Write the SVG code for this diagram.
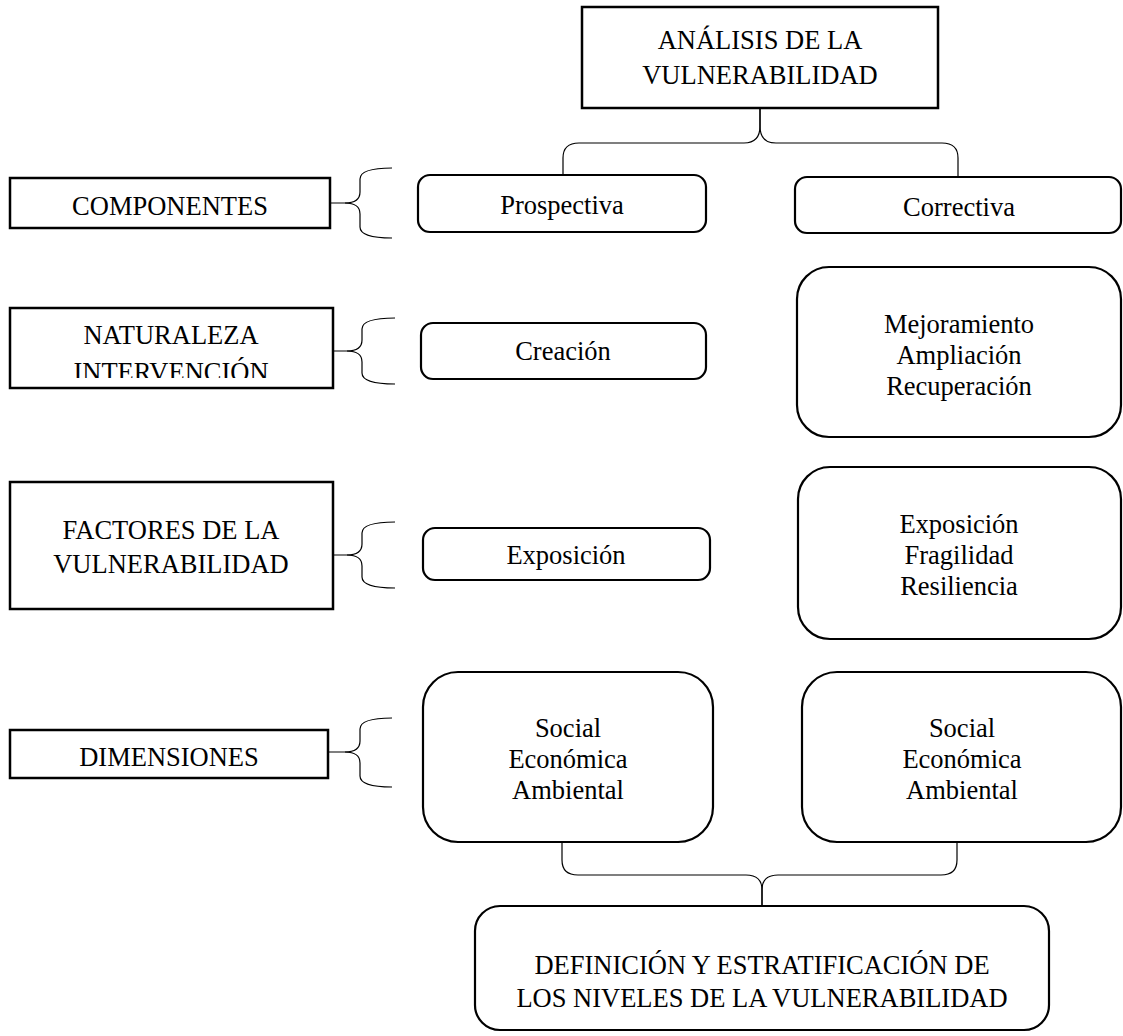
<svg xmlns="http://www.w3.org/2000/svg" width="1123" height="1036" viewBox="0 0 1123 1036">
<style>
text{font-family:"Liberation Serif","Times New Roman",serif;font-size:26.5px;fill:#000;text-anchor:middle}
.sq{fill:#fff;stroke:#000;stroke-width:2.5}
.rd{fill:#fff;stroke:#000;stroke-width:2.2}
.br{fill:none;stroke:#000;stroke-width:1.2}
</style>
<defs>
<clipPath id="clipNat"><rect x="10" y="308" width="323" height="70"/></clipPath>
</defs>
<g id="connectors">
<path class="br" d="M563,176 L563,158 Q563,143 579,143 L744,143 Q760,143 760,126 L760,109"/>
<path class="br" d="M760,109 L760,126 Q760,143 776,143 L942,143 Q958,143 958,158 L958,176"/>
<path class="br" d="M330,203 L345,203 Q360,203 360,192 L360,179 Q360,168 392,168"/>
<path class="br" d="M345,203 Q360,203 360,214 L360,227 Q360,238 392,238"/>
<path class="br" d="M333,351 L347,351 Q362,351 362,340 L362,329 Q362,318 395,318"/>
<path class="br" d="M347,351 Q362,351 362,362 L362,373 Q362,384 395,384"/>
<path class="br" d="M333,555 L347,555 Q362,555 362,544 L362,533 Q362,522 395,522"/>
<path class="br" d="M347,555 Q362,555 362,566 L362,577 Q362,588 395,588"/>
<path class="br" d="M328,752 L345,752 Q360,752 360,741 L360,729 Q360,718 392,718"/>
<path class="br" d="M345,752 Q360,752 360,763 L360,776 Q360,787 392,787"/>
<path class="br" d="M562,843 L562,860 Q562,875 578,875 L746,875 Q762,875 762,890 L762,906"/>
<path class="br" d="M762,906 L762,890 Q762,875 778,875 L941,875 Q957,875 957,860 L957,843"/>
</g>
<g id="n-analisis">
<rect class="sq" x="582" y="7" width="356" height="101"/>
<text x="760" y="49">ANÁLISIS DE LA</text>
<text x="760" y="84">VULNERABILIDAD</text>
</g>
<g id="n-componentes">
<rect class="sq" x="10" y="178" width="320" height="50"/>
<text x="170" y="215">COMPONENTES</text>
</g>
<g id="n-prospectiva">
<rect class="rd" x="418" y="175" width="288" height="57" rx="12"/>
<text x="562" y="214">Prospectiva</text>
</g>
<g id="n-correctiva">
<rect class="rd" x="795" y="177" width="326" height="56" rx="12"/>
<text x="959" y="216">Correctiva</text>
</g>
<g id="n-naturaleza">
<rect class="sq" x="10" y="308" width="323" height="80"/>
<text x="171" y="344">NATURALEZA</text>
<text x="171" y="381" clip-path="url(#clipNat)">INTERVENCIÓN</text>
</g>
<g id="n-creacion">
<rect class="rd" x="421" y="323" width="285" height="56" rx="12"/>
<text x="563" y="360">Creación</text>
</g>
<g id="n-mejoramiento">
<rect class="rd" x="797" y="267" width="324" height="170" rx="32"/>
<text x="959" y="333">Mejoramiento</text>
<text x="959" y="364">Ampliación</text>
<text x="959" y="395">Recuperación</text>
</g>
<g id="n-factores">
<rect class="sq" x="10" y="482" width="323" height="127"/>
<text x="171" y="539">FACTORES DE LA</text>
<text x="171" y="573">VULNERABILIDAD</text>
</g>
<g id="n-exposicion">
<rect class="rd" x="423" y="528" width="287" height="52" rx="12"/>
<text x="566" y="564">Exposición</text>
</g>
<g id="n-factores-der">
<rect class="rd" x="798" y="467" width="323" height="172" rx="32"/>
<text x="959" y="533">Exposición</text>
<text x="959" y="564">Fragilidad</text>
<text x="959" y="595">Resiliencia</text>
</g>
<g id="n-dimensiones">
<rect class="sq" x="10" y="730" width="318" height="48"/>
<text x="169" y="766">DIMENSIONES</text>
</g>
<g id="n-dim-izq">
<rect class="rd" x="423" y="672" width="290" height="170" rx="35"/>
<text x="568" y="737">Social</text>
<text x="568" y="768">Económica</text>
<text x="568" y="799">Ambiental</text>
</g>
<g id="n-dim-der">
<rect class="rd" x="802" y="672" width="319" height="170" rx="35"/>
<text x="962" y="737">Social</text>
<text x="962" y="768">Económica</text>
<text x="962" y="799">Ambiental</text>
</g>
<g id="n-definicion">
<rect class="rd" x="475" y="906" width="574" height="124" rx="25"/>
<text x="762" y="974">DEFINICIÓN Y ESTRATIFICACIÓN DE</text>
<text x="762" y="1007">LOS NIVELES DE LA VULNERABILIDAD</text>
</g>
</svg>
